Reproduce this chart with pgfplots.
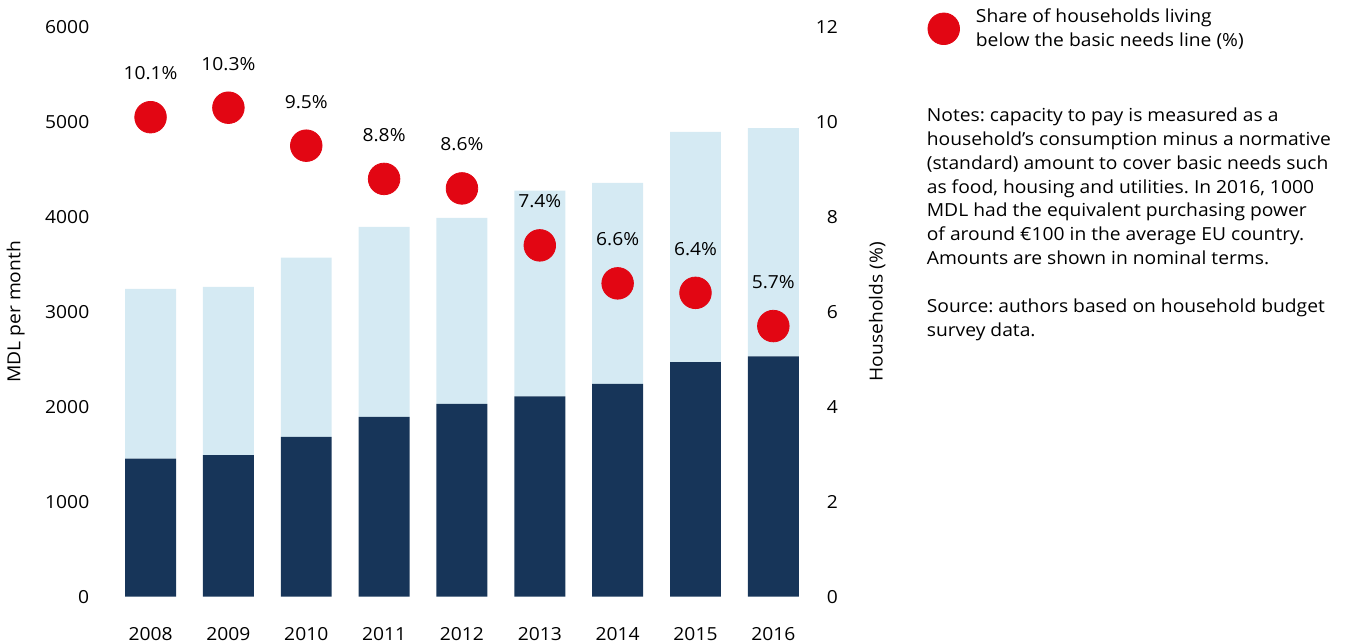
\documentclass[border=0pt]{standalone}
\usepackage{fontspec}
\setmainfont{Open Sans}[FakeStretch=1.07]
\usepackage{pgfplots}
\pgfplotsset{compat=1.18}
\usetikzlibrary{calc}
\definecolor{navy}{RGB}{23,53,89}
\definecolor{pale}{RGB}{213,234,243}
\definecolor{dotred}{RGB}{226,6,19}
\frenchspacing

\begin{document}
\begin{tikzpicture}[font=\fontsize{9}{12}\selectfont]
\pgfplotsset{
  base/.style={
    scale only axis, width=350.5pt, height=285pt,
    xmin=-0.5, xmax=8.5,
    axis line style={draw=none},
    major tick length=0pt,
    xtick={0,...,8},
    clip=false,
    ticklabel style={font=\fontsize{9}{12}\selectfont},
    /pgf/number format/assume math mode=true,
    /pgf/number format/1000 sep={},
  },
}
% bars: MDL per month
\begin{axis}[base, name=L,
  ybar stacked, bar width=25.5pt,
  ymin=0, ymax=6000, ytick={0,1000,...,6000},
  xticklabels={2008,2009,2010,2011,2012,2013,2014,2015,2016},
  xticklabel style={anchor=north, inner sep=0pt, yshift=-15pt},
  yticklabel style={anchor=east, inner sep=0pt, xshift=-11pt},
  every axis y label/.style={at={(axis description cs:-0.137,0.5)}, rotate=90, anchor=center},
  ylabel={MDL per month},
]
\addplot[fill=navy, draw=none] coordinates {
  (0,1453) (1,1491) (2,1684) (3,1895) (4,2032) (5,2109) (6,2242) (7,2471) (8,2530)};
\addplot[fill=pale, draw=none] coordinates {
  (0,1789) (1,1772) (2,1888) (3,2000) (4,1957) (5,2168) (6,2116) (7,2424) (8,2404)};
\end{axis}
% dots: households (%)
\begin{axis}[base,
  ymin=0, ymax=12, ytick={0,2,...,12},
  xticklabels={},
  yticklabel pos=right,
  yticklabel style={anchor=east, inner sep=0pt, xshift=13pt},
  every axis y label/.style={at={(axis description cs:1.0927,0.5)}, rotate=90, anchor=center},
  ylabel={Households (\%)},
  legend style={draw=none, fill=none, inner sep=0pt,
    at={(axis description cs:1.164,1.0333)}, anchor=north west,
    nodes={align=left, inner sep=0pt, font=\fontsize{9}{12}\selectfont}},
  legend cell align=left,
  legend image code/.code={\fill[dotred] (7.9pt,0pt) circle (7.9pt); \path (23.8pt,0pt);},
]
\addplot[dotred, only marks, mark=*, mark size=7.9pt,
  mark options={draw=none, fill=dotred},
  point meta=explicit symbolic, nodes near coords,
  every node near coord/.style={anchor=center, yshift=22pt, text=black,
    font=\fontsize{9}{12}\selectfont}]
  coordinates {
  (0,10.1)[10.1\%] (1,10.3)[10.3\%] (2,9.5)[9.5\%] (3,8.8)[8.8\%] (4,8.6)[8.6\%]
  (5,7.4)[7.4\%] (6,6.6)[6.6\%] (7,6.4)[6.4\%] (8,5.7)[5.7\%]};
\addlegendentry{Share of households living\\below the basic needs line (\%)}
\node[anchor=north west, align=left, inner sep=0pt] at (axis description cs:1.163,0.8596)
  {Notes: capacity to pay is measured as a\\
   household’s consumption minus a normative\\
   (standard) amount to cover basic needs such\\
   as food, housing and utilities. In 2016, 1000\\
   MDL had the equivalent purchasing power\\
   of around €100 in the average EU country.\\
   Amounts are shown in nominal terms.\\[12pt]
   Source: authors based on household budget\\
   survey data.};
\end{axis}
\path[use as bounding box] ($(L.south west)+(-55.5pt,-23.5pt)$) rectangle ++(677.5pt,322pt);
\end{tikzpicture}
\end{document}
